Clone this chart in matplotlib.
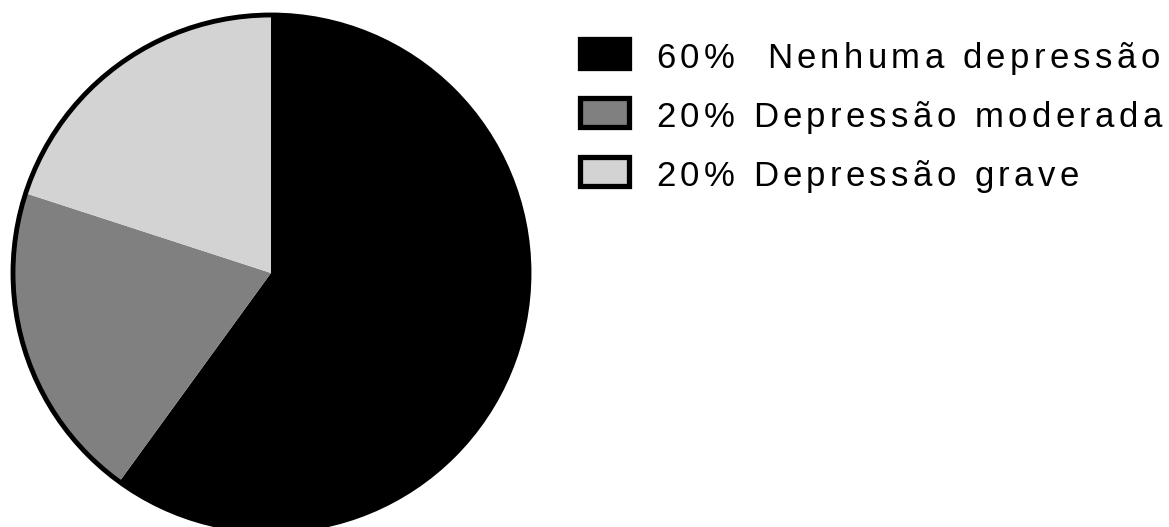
import matplotlib
matplotlib.use("Agg")
import matplotlib.pyplot as plt
from matplotlib.patches import Circle, Rectangle
from matplotlib.font_manager import FontProperties
from matplotlib.textpath import TextToPath

# data
labels = ["Nenhuma depressão", "Depressão moderada", "Depressão grave"]
shares = [60, 20, 20]
colors = ["#000000", "#808080", "#d3d3d3"]

W, H = 1169, 527
fig = plt.figure(figsize=(W / 100, H / 100), dpi=100, facecolor="white")
ax = fig.add_axes([0, 0, 1, 1])

# pie, slices without inner edges, thick outer ring
cx, cy, r = 271, H - 273, 258
ax.pie(shares, colors=colors, startangle=90, counterclock=False,
       center=(cx, cy), radius=r, frame=True,
       wedgeprops=dict(linewidth=0))
ax.set_xlim(0, W)
ax.set_ylim(0, H)
ax.set_aspect("equal")
ax.axis("off")
ax.add_patch(Circle((cx, cy), r, fill=False, edgecolor="black", lw=3.5))

# legend with spaced-out lettering
prop = FontProperties(family="Liberation Sans", size=25)
ttp = TextToPath()
px = 100 / 72
tracking = 4.4
rows_y = [H - 68, H - 127, H - 186]
for i, (share, lab, col) in enumerate(zip(shares, labels, colors)):
    base = rows_y[i]
    ax.add_patch(Rectangle((580, base), 49, 29, facecolor=col,
                           edgecolor="black", lw=3.8))
    s = f"{share}% " + (" " if i == 0 else "") + lab
    x = 656
    for ch in s:
        w, _, _ = ttp.get_text_width_height_descent(ch, prop, ismath=False)
        if ch != " ":
            ax.text(x, base, ch, fontproperties=prop, ha="left",
                    va="baseline", color="black")
        x += w * px + tracking

fig.savefig("out.png", dpi=100, facecolor="white")
